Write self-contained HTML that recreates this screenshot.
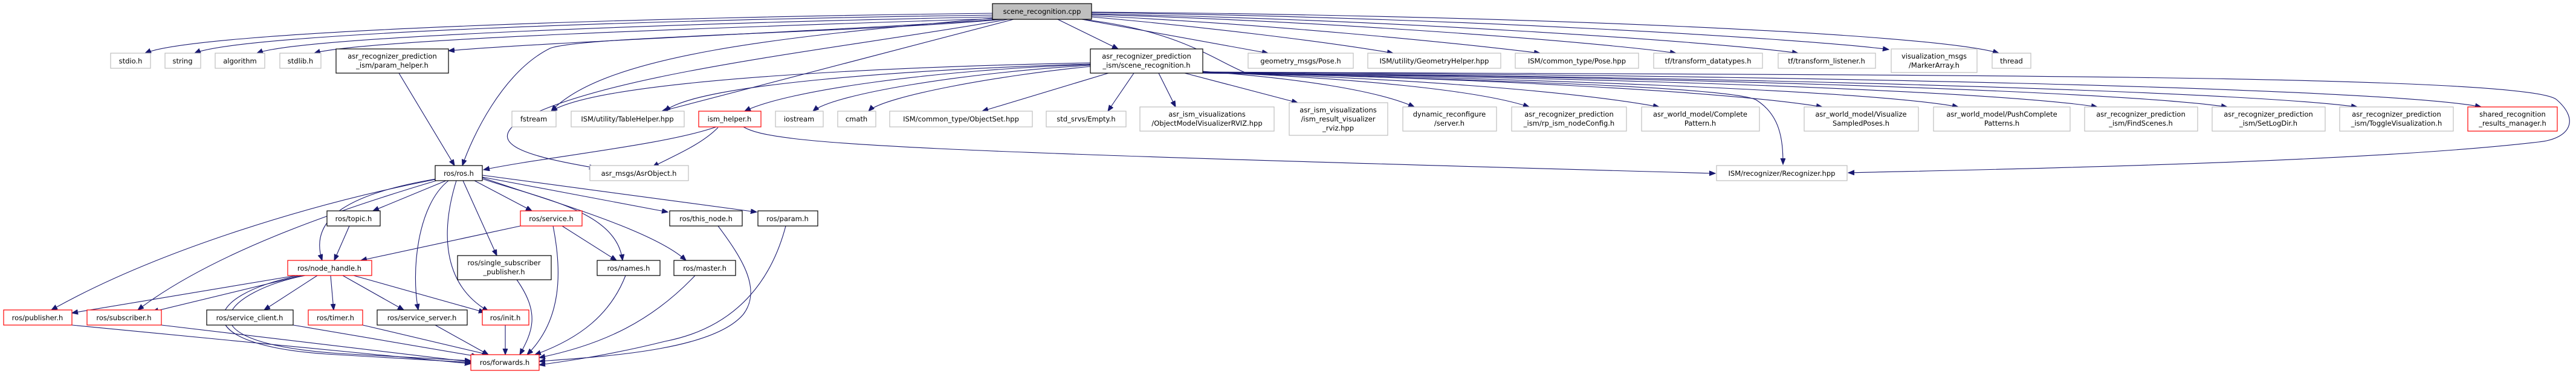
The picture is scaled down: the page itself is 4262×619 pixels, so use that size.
<!DOCTYPE html>
<html><head><meta charset="utf-8"><style>
html,body{margin:0;padding:0;background:#fff;}
svg{display:block;}
text{font-family:"DejaVu Sans","Liberation Sans",sans-serif;font-size:11.5px;fill:#000;text-anchor:middle;}
.e{fill:none;stroke:#191970;stroke-width:1.1;marker-end:url(#a);}
.g{fill:#fff;stroke:#bfbfbf;stroke-width:1.2;}
.b{fill:#fff;stroke:#000;stroke-width:1.2;}
.r{fill:#fff;stroke:#ff0000;stroke-width:1.2;}
</style></head><body>
<svg width="4262" height="619" viewBox="0 0 4262 619" xmlns="http://www.w3.org/2000/svg">
<defs><marker id="a" markerUnits="userSpaceOnUse" markerWidth="12" markerHeight="10" refX="10" refY="4" orient="auto"><path d="M0,0 L10,4 L0,8 z" fill="#191970" stroke="#191970"/></marker></defs>
<!-- edges from scene_recognition.cpp -->
<path class="e" d="M1642,22 C1100,28 330,50 240,88"/>
<path class="e" d="M1642,25 C1100,32 400,55 322,88"/>
<path class="e" d="M1642,28 C1150,38 500,60 425,88"/>
<path class="e" d="M1642,31 C1200,45 600,65 520,88"/>
<path class="e" d="M1652,32 C1400,50 900,70 742,84"/>
<path class="e" d="M1660,32 C1400,55 960,60 910,80 C830,120 780,230 765,274"/>
<path class="e" d="M1668,32 C1400,80 1000,120 860,200 C800,240 880,260 985,278"/>
<path class="e" d="M1642,30 C1300,60 1000,90 912,184"/>
<path class="e" d="M1677,32 L1095,184"/>
<path class="e" d="M1750,32 L1850,81"/>
<path class="e" d="M1790,32 L2098,88"/>
<path class="e" d="M1806,28 C2000,45 2200,70 2305,88"/>
<path class="e" d="M1806,26 C2100,40 2400,70 2548,88"/>
<path class="e" d="M1806,24 C2200,35 2650,70 2773,88"/>
<path class="e" d="M1806,23 C2300,32 2850,70 2975,88"/>
<path class="e" d="M1806,21 C2400,28 3000,65 3125,82"/>
<path class="e" d="M1806,20 C2500,25 3200,55 3307,88"/>
<path class="e" d="M1790,32 C1950,50 2010,100 2060,120 C2300,130 2850,140 2905,165 C2945,190 2950,230 2950,272"/>
<!-- edges from scene_recognition.h -->
<path class="e" d="M1804,104 C1500,110 1000,130 912,184"/>
<path class="e" d="M1804,106 C1500,115 1150,140 1100,184"/>
<path class="e" d="M1804,107 C1550,115 1300,150 1232,184"/>
<path class="e" d="M1804,108 C1600,120 1380,155 1345,184"/>
<path class="e" d="M1804,110 C1650,125 1460,160 1437,184"/>
<path class="e" d="M1834,121 L1625,184"/>
<path class="e" d="M1876,121 L1833,184"/>
<path class="e" d="M1917,121 L1945,177"/>
<path class="e" d="M1960,121 L2147,170"/>
<path class="e" d="M1990,118 C2150,130 2280,150 2340,177"/>
<path class="e" d="M1990,119 C2250,130 2450,150 2530,177"/>
<path class="e" d="M1990,120 C2300,128 2600,150 2745,177"/>
<path class="e" d="M1990,120 C2400,128 2850,150 3015,177"/>
<path class="e" d="M1990,121 C2500,128 3100,150 3240,177"/>
<path class="e" d="M1990,121 C2600,126 3300,150 3470,177"/>
<path class="e" d="M1990,121 C2700,125 3500,150 3685,177"/>
<path class="e" d="M1990,121 C2800,125 3700,150 3900,177"/>
<path class="e" d="M1990,120 C2900,123 3950,145 4105,177"/>
<path class="e" d="M1990,119 C3000,125 4180,120 4230,165 C4270,200 4250,230 4200,235 C3900,270 3300,280 3058,286"/>
<!-- ism_helper -->
<path class="e" d="M1185,210 C1100,240 900,260 800,281"/>
<path class="e" d="M1188,211 C1160,240 1110,260 1080,276"/>
<path class="e" d="M1230,210 C1280,240 1500,250 2838,287"/>
<!-- param_helper -->
<path class="e" d="M660,121 L752,274"/>
<!-- ros.h -->
<path class="e" d="M720,297 C500,340 250,420 85,513"/>
<path class="e" d="M722,299 C550,350 350,420 228,513"/>
<path class="e" d="M722,296 C580,320 510,360 533,431"/>
<path class="e" d="M738,299 L617,349"/>
<path class="e" d="M742,299 C690,340 680,450 692,513"/>
<path class="e" d="M755,299 C730,380 730,470 808,515"/>
<path class="e" d="M766,299 L822,423"/>
<path class="e" d="M785,299 L880,349"/>
<path class="e" d="M798,296 C900,330 1020,350 1030,431"/>
<path class="e" d="M798,293 L1105,351"/>
<path class="e" d="M798,290 L1252,351"/>
<path class="e" d="M798,294 C900,330 1080,380 1135,431"/>
<!-- lower -->
<path class="e" d="M578,374 L553,431"/>
<path class="e" d="M861,374 L597,431"/>
<path class="e" d="M930,374 L1020,431"/>
<path class="e" d="M915,374 C930,450 930,530 872,587"/>
<path class="e" d="M490,456 L119,518"/>
<path class="e" d="M500,456 L252,516"/>
<path class="e" d="M525,456 L437,513"/>
<path class="e" d="M547,456 L552,513"/>
<path class="e" d="M567,456 L668,513"/>
<path class="e" d="M585,456 L802,517"/>
<path class="e" d="M505,456 C380,480 280,565 560,585 L779,597"/>
<path class="e" d="M495,456 C330,490 310,570 540,586 L779,600"/>
<path class="e" d="M119,538 L779,602"/>
<path class="e" d="M267,538 L779,599"/>
<path class="e" d="M485,538 L790,590"/>
<path class="e" d="M600,538 L808,587"/>
<path class="e" d="M720,538 L808,587"/>
<path class="e" d="M836,538 L836,587"/>
<path class="e" d="M855,463 C895,520 880,550 860,587"/>
<path class="e" d="M1035,456 C1010,520 960,560 885,587"/>
<path class="e" d="M1150,456 C1080,530 1000,570 892,592"/>
<path class="e" d="M1188,374 C1230,430 1260,480 1230,520 C1180,580 1000,590 892,598"/>
<path class="e" d="M1300,374 C1280,450 1230,540 1100,565 C1000,590 920,600 892,604"/>
<!-- nodes -->
<rect x="1642" y="6" width="164" height="26" fill="#bfbfbf" stroke="#000" stroke-width="1.2"/><text x="1724" y="23">scene_recognition.cpp</text>
<rect class="g" x="183" y="88" width="66" height="25"/><text x="216" y="105">stdio.h</text>
<rect class="g" x="273" y="88" width="59" height="25"/><text x="302" y="105">string</text>
<rect class="g" x="356" y="88" width="82" height="25"/><text x="397" y="105">algorithm</text>
<rect class="g" x="463" y="88" width="68" height="25"/><text x="497" y="105">stdlib.h</text>
<rect class="b" x="556" y="81" width="186" height="40"/><text x="649" y="97">asr_recognizer_prediction</text><text x="649" y="112">_ism/param_helper.h</text>
<rect class="b" x="1804" y="81" width="186" height="40"/><text x="1897" y="97">asr_recognizer_prediction</text><text x="1897" y="112">_ism/scene_recognition.h</text>
<rect class="g" x="2065" y="88" width="174" height="25"/><text x="2152" y="105">geometry_msgs/Pose.h</text>
<rect class="g" x="2263" y="88" width="220" height="25"/><text x="2373" y="105">ISM/utility/GeometryHelper.hpp</text>
<rect class="g" x="2507" y="88" width="204" height="25"/><text x="2609" y="105">ISM/common_type/Pose.hpp</text>
<rect class="g" x="2736" y="88" width="180" height="25"/><text x="2826" y="105">tf/transform_datatypes.h</text>
<rect class="g" x="2942" y="88" width="161" height="25"/><text x="3022" y="105">tf/transform_listener.h</text>
<rect class="g" x="3129" y="81" width="142" height="39"/><text x="3200" y="97">visualization_msgs</text><text x="3200" y="112">/MarkerArray.h</text>
<rect class="g" x="3296" y="88" width="64" height="25"/><text x="3328" y="105">thread</text>
<rect class="g" x="847" y="184" width="73" height="26"/><text x="883" y="201">fstream</text>
<rect class="g" x="945" y="184" width="187" height="26"/><text x="1038" y="201">ISM/utility/TableHelper.hpp</text>
<rect class="r" x="1156" y="184" width="103" height="26"/><text x="1207" y="201">ism_helper.h</text>
<rect class="g" x="1283" y="184" width="79" height="26"/><text x="1322" y="201">iostream</text>
<rect class="g" x="1386" y="184" width="63" height="26"/><text x="1417" y="201">cmath</text>
<rect class="g" x="1472" y="184" width="236" height="26"/><text x="1590" y="201">ISM/common_type/ObjectSet.hpp</text>
<rect class="g" x="1731" y="184" width="132" height="26"/><text x="1797" y="201">std_srvs/Empty.h</text>
<rect class="g" x="1886" y="177" width="222" height="40"/><text x="1997" y="193">asr_ism_visualizations</text><text x="1997" y="208">/ObjectModelVisualizerRVIZ.hpp</text>
<rect class="g" x="2133" y="170" width="163" height="54"/><text x="2214" y="186">asr_ism_visualizations</text><text x="2214" y="201">/ism_result_visualizer</text><text x="2214" y="216">_rviz.hpp</text>
<rect class="g" x="2321" y="177" width="155" height="40"/><text x="2398" y="193">dynamic_reconfigure</text><text x="2398" y="208">/server.h</text>
<rect class="g" x="2501" y="177" width="190" height="40"/><text x="2596" y="193">asr_recognizer_prediction</text><text x="2596" y="208">_ism/rp_ism_nodeConfig.h</text>
<rect class="g" x="2716" y="177" width="195" height="40"/><text x="2813" y="193">asr_world_model/Complete</text><text x="2813" y="208">Pattern.h</text>
<rect class="g" x="2985" y="177" width="189" height="40"/><text x="3079" y="193">asr_world_model/Visualize</text><text x="3079" y="208">SampledPoses.h</text>
<rect class="g" x="3199" y="177" width="226" height="40"/><text x="3312" y="193">asr_world_model/PushComplete</text><text x="3312" y="208">Patterns.h</text>
<rect class="g" x="3449" y="177" width="187" height="40"/><text x="3542" y="193">asr_recognizer_prediction</text><text x="3542" y="208">_ism/FindScenes.h</text>
<rect class="g" x="3660" y="177" width="187" height="40"/><text x="3753" y="193">asr_recognizer_prediction</text><text x="3753" y="208">_ism/SetLogDir.h</text>
<rect class="g" x="3871" y="177" width="188" height="40"/><text x="3965" y="193">asr_recognizer_prediction</text><text x="3965" y="208">_ism/ToggleVisualization.h</text>
<rect class="r" x="4083" y="177" width="148" height="40"/><text x="4157" y="193">shared_recognition</text><text x="4157" y="208">_results_manager.h</text>
<rect class="b" x="720" y="274" width="78" height="25"/><text x="759" y="291">ros/ros.h</text>
<rect class="g" x="976" y="274" width="163" height="25"/><text x="1057" y="291">asr_msgs/AsrObject.h</text>
<rect class="g" x="2840" y="274" width="216" height="25"/><text x="2948" y="291">ISM/recognizer/Recognizer.hpp</text>
<rect class="b" x="541" y="349" width="88" height="25"/><text x="585" y="366">ros/topic.h</text>
<rect class="r" x="861" y="349" width="102" height="25"/><text x="912" y="366">ros/service.h</text>
<rect class="b" x="1108" y="349" width="120" height="25"/><text x="1168" y="366">ros/this_node.h</text>
<rect class="b" x="1254" y="349" width="99" height="25"/><text x="1303" y="366">ros/param.h</text>
<rect class="r" x="476" y="431" width="139" height="25"/><text x="545" y="448">ros/node_handle.h</text>
<rect class="b" x="757" y="423" width="155" height="40"/><text x="834" y="439">ros/single_subscriber</text><text x="834" y="454">_publisher.h</text>
<rect class="b" x="988" y="431" width="104" height="25"/><text x="1040" y="448">ros/names.h</text>
<rect class="b" x="1115" y="431" width="102" height="25"/><text x="1166" y="448">ros/master.h</text>
<rect class="r" x="6" y="513" width="113" height="25"/><text x="62" y="530">ros/publisher.h</text>
<rect class="r" x="144" y="513" width="123" height="25"/><text x="205" y="530">ros/subscriber.h</text>
<rect class="b" x="342" y="513" width="143" height="25"/><text x="413" y="530">ros/service_client.h</text>
<rect class="r" x="510" y="513" width="90" height="25"/><text x="555" y="530">ros/timer.h</text>
<rect class="b" x="624" y="513" width="149" height="25"/><text x="698" y="530">ros/service_server.h</text>
<rect class="r" x="798" y="513" width="77" height="25"/><text x="836" y="530">ros/init.h</text>
<rect class="r" x="779" y="587" width="113" height="26"/><text x="835" y="604">ros/forwards.h</text>
</svg>
</body></html>
